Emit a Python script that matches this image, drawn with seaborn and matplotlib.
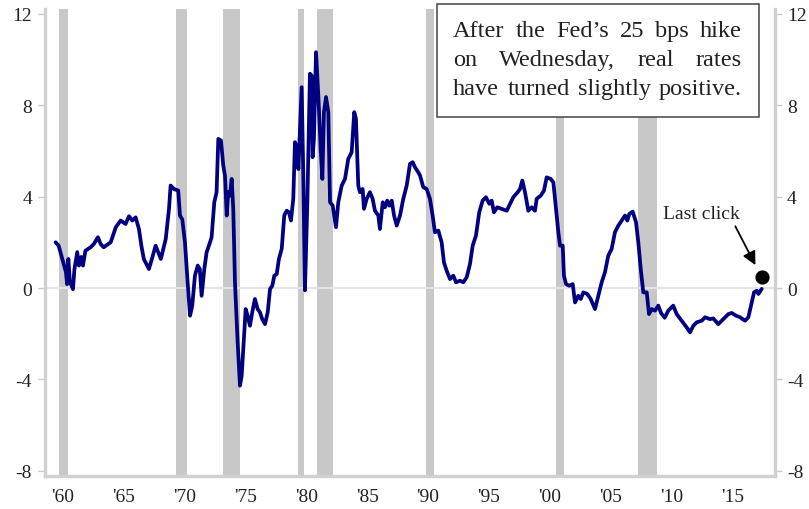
# real fed funds rate chart with recession shading, rebuilt in seaborn

import matplotlib
matplotlib.use("Agg")
import matplotlib.pyplot as plt
import matplotlib.patches as patches
import seaborn as sns

# values (year, real rate in %)
years = [1960.05, 1960.3, 1960.6, 1960.9, 1961.0, 1961.1, 1961.23, 1961.48, 1961.6, 1961.83,
         1961.97, 1962.16, 1962.3, 1962.5, 1962.93, 1963.2, 1963.53, 1963.75, 1964.0, 1964.58,
         1965.0, 1965.4, 1965.8, 1966.08, 1966.35, 1966.63, 1966.9, 1967.1, 1967.3, 1967.72,
         1968.0, 1968.27, 1968.7, 1969.1, 1969.37, 1969.5, 1969.78, 1970.13, 1970.27, 1970.46,
         1970.68, 1970.9, 1971.1, 1971.28, 1971.5, 1971.73, 1971.9, 1972.05, 1972.27, 1972.46,
         1972.74, 1972.87, 1973.09, 1973.28, 1973.42, 1973.64, 1973.83, 1973.97, 1974.11, 1974.24,
         1974.38, 1974.52, 1974.65, 1974.79, 1975.01, 1975.2, 1975.34, 1975.47, 1975.67, 1975.83,
         1976.02, 1976.21, 1976.43, 1976.65, 1976.84, 1977.03, 1977.26, 1977.48, 1977.67, 1977.86,
         1978.02, 1978.22, 1978.4, 1978.63, 1978.84, 1979.04, 1979.23, 1979.39, 1979.58, 1979.72,
         1979.91, 1980.0, 1980.27, 1980.4, 1980.54, 1980.73, 1980.95, 1981.09, 1981.17, 1981.28,
         1981.45, 1981.64, 1981.83, 1981.97, 1982.1, 1982.27, 1982.46, 1982.6, 1982.82, 1983.09,
         1983.28, 1983.56, 1983.83, 1984.1, 1984.38, 1984.59, 1984.73, 1984.92, 1985.06, 1985.28,
         1985.39, 1985.61, 1985.88, 1986.1, 1986.29, 1986.57, 1986.7, 1986.93, 1987.12, 1987.3,
         1987.47, 1987.67, 1987.86, 1988.08, 1988.35, 1988.62, 1988.9, 1989.17, 1989.39, 1989.58,
         1989.85, 1990.0, 1990.26, 1990.54, 1990.81, 1991.03, 1991.22, 1991.5, 1991.77, 1991.96,
         1992.18, 1992.46, 1992.73, 1992.95, 1993.28, 1993.55, 1993.83, 1994.1, 1994.32, 1994.59,
         1994.86, 1995.14, 1995.41, 1995.69, 1995.88, 1996.07, 1996.34, 1996.7, 1997.12, 1997.39,
         1997.66, 1998.02, 1998.21, 1998.4, 1998.62, 1998.89, 1999.17, 1999.44, 1999.58, 1999.91,
         2000.18, 2000.4, 2000.73, 2000.95, 2001.17, 2001.36, 2001.5, 2001.72, 2001.82, 2001.99,
         2002.26, 2002.54, 2002.73, 2003.0, 2003.2, 2003.41, 2003.74, 2004.02, 2004.37, 2004.64,
         2004.92, 2005.19, 2005.46, 2005.74, 2006.01, 2006.29, 2006.57, 2006.84, 2007.03, 2007.19,
         2007.47, 2007.74, 2007.93, 2008.13, 2008.34, 2008.62, 2008.81, 2009.03, 2009.3, 2009.57,
         2009.8, 2010.1, 2010.39, 2010.8, 2011.08, 2011.49, 2011.9, 2012.18, 2012.45, 2012.73,
         2013.14, 2013.41, 2013.82, 2014.09, 2014.5, 2014.91, 2015.33, 2015.6, 2015.96, 2016.29,
         2016.7, 2016.97, 2017.25, 2017.44, 2017.66, 2017.8, 2018.07]
real_rate = [2.0, 1.85, 1.27, 0.7, 0.17, 1.27, 0.26, -0.05, 0.83, 1.57,
             0.98, 1.36, 0.98, 1.63, 1.78, 1.93, 2.22, 1.93, 1.78, 2.0,
             2.66, 2.95, 2.8, 3.14, 2.95, 3.09, 2.58, 1.85, 1.27, 0.83,
             1.34, 1.85, 1.27, 2.14, 3.46, 4.48, 4.33, 4.26, 3.17, 3.0,
             2.0, 0.25, -1.21, -0.77, 0.54, 0.98, 0.83, -0.34, 0.83, 1.56,
             2.0, 2.22, 3.75, 4.19, 6.52, 6.45, 5.35, 4.91, 3.17, 4.19,
             4.04, 4.77, 3.46, 0.25, -2.38, -4.27, -3.84, -2.67, -0.92, -1.21,
             -1.65, -1.06, -0.48, -0.92, -1.06, -1.36, -1.58, -1.06, -0.04, 0.1,
             0.54, 0.61, 1.27, 1.71, 3.17, 3.38, 3.31, 2.95, 3.9, 6.38,
             6.08, 5.2, 8.78, 5.06, -0.1, 3.6, 9.37, 9.29, 5.72, 6.52,
             10.31, 8.42, 6.08, 4.77, 7.69, 8.35, 7.69, 3.75, 3.6, 2.66,
             3.75, 4.48, 4.77, 5.65, 5.94, 7.69, 7.4, 4.48, 4.19, 4.33,
             3.46, 3.9, 4.19, 3.9, 3.38, 3.17, 2.58, 3.75, 3.53, 3.82,
             3.6, 3.82, 3.17, 2.73, 3.17, 3.9, 4.48, 5.43, 5.5, 5.28,
             5.06, 4.91, 4.41, 4.33, 3.9, 3.17, 2.44, 2.51, 2.0, 1.12,
             0.76, 0.39, 0.54, 0.25, 0.32, 0.25, 0.47, 1.05, 1.85, 2.29,
             3.31, 3.82, 3.97, 3.68, 3.82, 3.31, 3.53, 3.46, 3.38, 3.68,
             3.97, 4.19, 4.33, 4.7, 4.19, 3.38, 3.53, 3.38, 3.9, 4.04,
             4.26, 4.84, 4.77, 4.62, 3.46, 2.44, 1.85, 1.85, 0.54, 0.17,
             0.1, 0.17, -0.63, -0.34, -0.48, -0.19, -0.26, -0.48, -0.92, -0.34,
             0.25, 0.69, 1.41, 1.71, 2.44, 2.73, 2.95, 3.17, 2.95, 3.24,
             3.34, 2.88, 2.0, 0.83, -0.19, -0.19, -1.14, -0.92, -0.99, -0.77,
             -1.1, -1.3, -0.99, -0.77, -1.14, -1.43, -1.72, -1.94, -1.65, -1.5,
             -1.43, -1.28, -1.36, -1.33, -1.58, -1.36, -1.14, -1.09, -1.21, -1.28,
             -1.43, -1.28, -0.63, -0.19, -0.12, -0.26, -0.04]

# nber recessions (start, end)
rec_start = [1960.33, 1969.92, 1973.83, 1980.0, 1981.5, 1990.5, 2001.17, 2007.92]
rec_end = [1961.08, 1970.83, 1975.17, 1980.5, 1982.83, 1991.17, 2001.83, 2009.5]

label_years = [1960, 1965, 1970, 1975, 1980, 1985, 1990, 1995, 2000, 2005, 2010, 2015]
tick_labels = ["'60", "'65", "'70", "'75", "'80", "'85", "'90", "'95", "'00", "'05", "'10", "'15"]
y_ticks = [-8, -4, 0, 4, 8, 12]

last_click = (2018.07, 0.47)

box_lines = [["After", "the", "Fed\u2019s", "25", "bps", "hike"],
             ["on", "Wednesday,", "real", "rates"],
             ["have", "turned", "slightly", "positive."]]

sns.set_style("white")
plt.rcParams['font.family'] = ['Liberation Serif', 'DejaVu Serif']

W, H = 809, 510
fig = plt.figure(figsize=(W / 100, H / 100), dpi=100)
ax = fig.add_axes([44.5 / W, 1 - 477 / H, 730 / W, 467 / H])

for s, e in zip(rec_start, rec_end):
    ax.axvspan(s, e, color='#c8c8c8', lw=0, zorder=0)
ax.axhline(0, color='#e4e4e4', lw=1.5, zorder=0.5)

sns.lineplot(x=years, y=real_rate, color='#000080', lw=2.7, sort=False, ax=ax, zorder=3)
ax.scatter([last_click[0]], [last_click[1]], s=85, color='black', zorder=4)

ax.text(2013.08, 3.24, 'Last click', ha='center', va='center', fontsize=14, color='#222222')
ax.annotate('', xy=(2017.55, 1.0), xytext=(2015.9, 2.7),
            arrowprops=dict(arrowstyle='-|>', color='black', lw=1.3,
                            mutation_scale=20, shrinkA=0, shrinkB=0))

ax.set_xlim(1959.14, 2019.12)
ax.set_ylim(-8.22, 12.2)

# labels sit a bit right of the year mark, ticks every year
ax.set_xticks([y + 0.65 for y in label_years])
ax.set_xticklabels(tick_labels)
ax.set_xticks(range(1960, 2020), minor=True)
ax.tick_params(axis='x', which='major', length=0, pad=9, labelsize=14, labelcolor='#222222')
ax.tick_params(axis='x', which='minor', length=5, width=1, color='#c8c8c8', direction='out')

ax.set_yticks(y_ticks)
ax.set_yticklabels([str(v) for v in y_ticks])
ax.tick_params(axis='y', which='major', left=True, right=True, labelleft=True, labelright=True,
               length=5, width=1, color='#c8c8c8', direction='out', pad=4,
               labelsize=14, labelcolor='#222222')

for side in ['left', 'right', 'bottom']:
    ax.spines[side].set_color('#d0d0d0')
    ax.spines[side].set_linewidth(2.4)
ax.spines['top'].set_visible(False)
ax.set_xlabel('')
ax.set_ylabel('')

# text box in the top right, with justified lines
rect = patches.Rectangle((437 / W, 1 - 118 / H), 322 / W, 113 / H, transform=fig.transFigure,
                         facecolor='white', edgecolor='#444444', lw=1.1, zorder=5)
fig.add_artist(rect)

renderer = fig.canvas.get_renderer()
x0, x1 = 453, 742
baselines = [37, 66, 95]
for words, base in zip(box_lines, baselines):
    texts = [fig.text(0, 1 - base / H, w, fontsize=17.5, va='baseline', ha='left',
                      color='#222222', zorder=6) for w in words]
    widths = [t.get_window_extent(renderer).width for t in texts]
    gap = (x1 - x0 - sum(widths)) / (len(words) - 1)
    x = x0
    for t, wd in zip(texts, widths):
        t.set_x(x / W)
        x += wd + gap

fig.savefig('out.png', dpi=100)
